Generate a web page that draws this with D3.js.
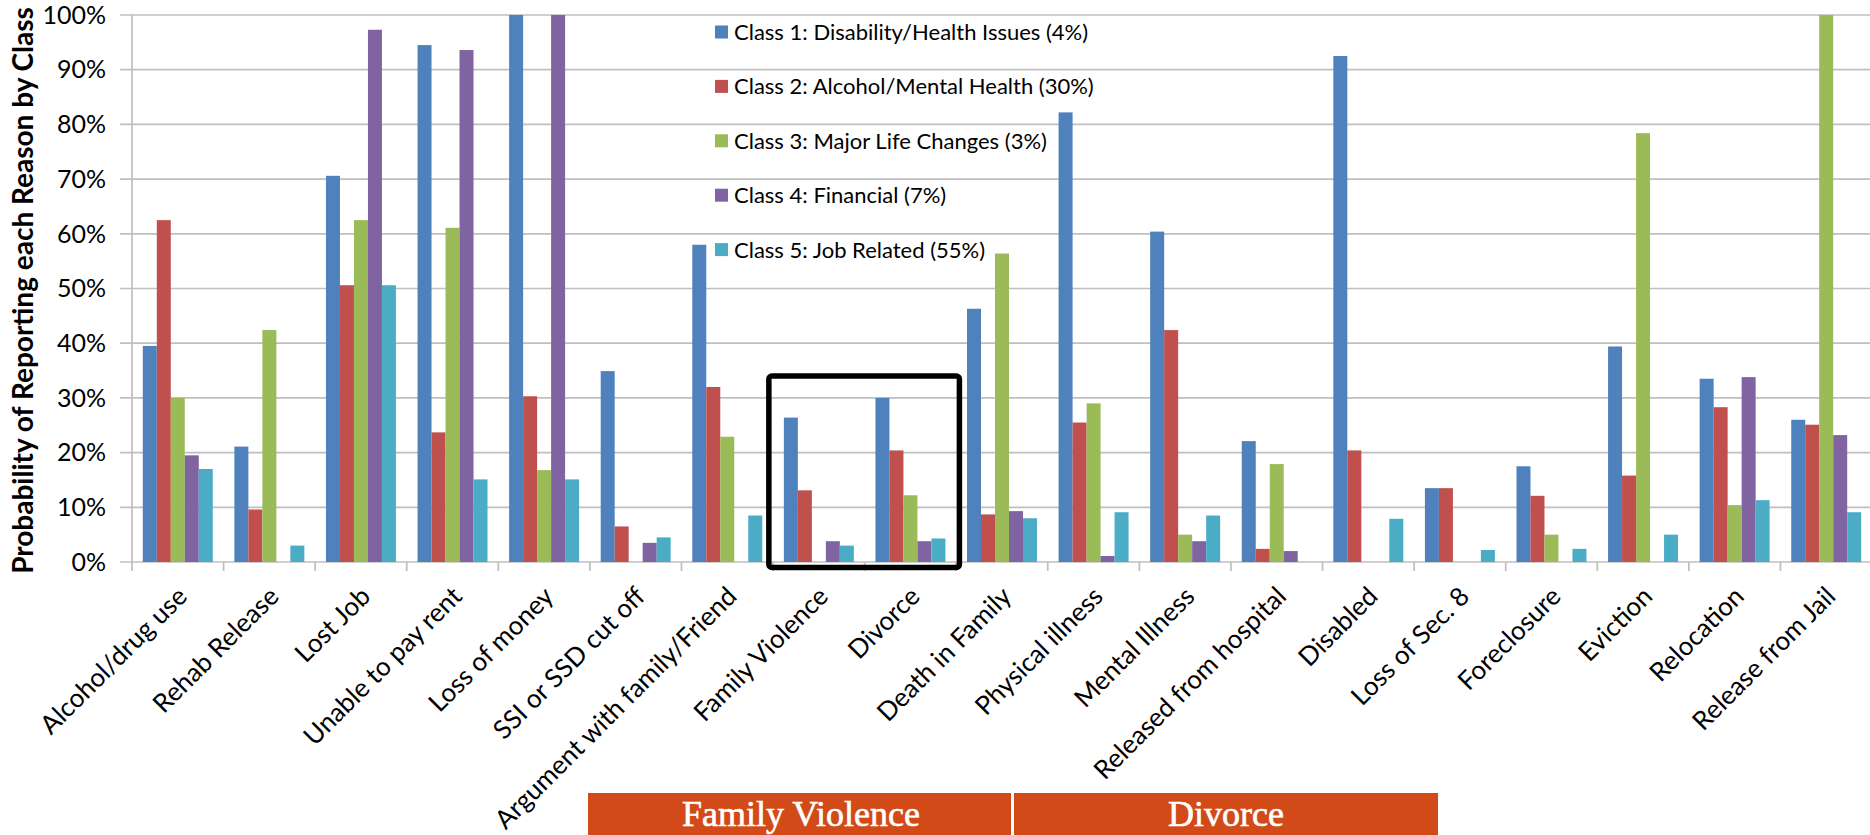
<!DOCTYPE html>
<html>
<head>
<meta charset="utf-8">
<script src="https://cdn.jsdelivr.net/npm/d3@7"></script>
<style>
  html, body { margin: 0; padding: 0; background: #fff; }
  svg { display: block; }
</style>
</head>
<body>
<div id="chart"></div>
<script>
// reasons reported (x categories)
const reasons = [
  "Alcohol/drug use", "Rehab Release", "Lost Job", "Unable to pay rent", "Loss of money",
  "SSI or SSD cut off", "Argument with family/Friend", "Family Violence", "Divorce",
  "Death in Family", "Physical illness", "Mental Illness", "Released from hospital",
  "Disabled", "Loss of Sec. 8", "Foreclosure", "Eviction", "Relocation", "Release from Jail"
];

const classNames = [
  "Class 1: Disability/Health Issues (4%)",
  "Class 2: Alcohol/Mental Health (30%)",
  "Class 3: Major Life Changes (3%)",
  "Class 4: Financial (7%)",
  "Class 5: Job Related (55%)"
];

// probability per reason, one array per class
const class1 = [0.395, 0.211, 0.706, 0.945, 1.00, 0.349, 0.580, 0.264, 0.300, 0.463, 0.822, 0.604, 0.221, 0.925, 0.135, 0.175, 0.394, 0.335, 0.260];
const class2 = [0.625, 0.096, 0.506, 0.237, 0.303, 0.065, 0.320, 0.131, 0.204, 0.087, 0.255, 0.424, 0.024, 0.204, 0.135, 0.121, 0.158, 0.283, 0.251];
const class3 = [0.300, 0.424, 0.625, 0.611, 0.168, 0.000, 0.229, 0.000, 0.122, 0.564, 0.290, 0.050, 0.179, 0.000, 0.000, 0.050, 0.784, 0.104, 1.00];
const class4 = [0.195, 0.000, 0.973, 0.936, 1.00, 0.035, 0.000, 0.038, 0.038, 0.093, 0.011, 0.038, 0.020, 0.000, 0.000, 0.000, 0.000, 0.338, 0.232];
const class5 = [0.170, 0.030, 0.506, 0.151, 0.151, 0.045, 0.085, 0.030, 0.043, 0.080, 0.091, 0.085, 0.000, 0.079, 0.022, 0.024, 0.050, 0.113, 0.091];

const yTicks = [0, 0.1, 0.2, 0.3, 0.4, 0.5, 0.6, 0.7, 0.8, 0.9, 1.0];
const colors = ["#4F81BD", "#C0504D", "#9BBB59", "#8064A2", "#4BACC6"];

const highlighted = ["Family Violence", "Divorce"];   // boxed categories
const bannerLabels = ["Family Violence", "Divorce"];

const W = 1870, H = 835;
const margin = {top: 15, right: -2, bottom: 273, left: 132};
const font = "Lato, 'Open Sans', sans-serif";

const series = [class1, class2, class3, class4, class5];

const svg = d3.select("#chart").append("svg")
  .attr("width", W).attr("height", H);

const x0 = d3.scaleBand()
  .domain(reasons)
  .range([margin.left, W - margin.right])
  .paddingInner(0.236)
  .paddingOuter(0.118);

const x1 = d3.scaleBand()
  .domain(d3.range(classNames.length))
  .range([0, x0.bandwidth()]);

const y = d3.scaleLinear()
  .domain([0, 1])
  .range([H - margin.bottom, margin.top]);

const gridColor = "#BFBFBF";

// grid lines + y ticks
svg.append("g")
  .selectAll("line")
  .data(yTicks)
  .join("line")
  .attr("x1", margin.left - 12)
  .attr("x2", W)
  .attr("y1", d => y(d))
  .attr("y2", d => y(d))
  .attr("stroke", gridColor)
  .attr("stroke-width", 1.7);

svg.append("line")
  .attr("x1", margin.left).attr("x2", margin.left)
  .attr("y1", y(1)).attr("y2", y(0))
  .attr("stroke", gridColor).attr("stroke-width", 1.7);

svg.append("g")
  .selectAll("text")
  .data(yTicks)
  .join("text")
  .attr("x", margin.left - 26)
  .attr("y", d => y(d))
  .attr("dy", "0.35em")
  .attr("text-anchor", "end")
  .style("font-family", font)
  .style("font-size", "25px")
  .attr("fill", "#000")
  .text(d3.format(".0%"));

// x category ticks at band boundaries
const step = x0.step();
svg.append("g")
  .selectAll("line")
  .data(d3.range(reasons.length + 1))
  .join("line")
  .attr("x1", i => margin.left + i * step)
  .attr("x2", i => margin.left + i * step)
  .attr("y1", y(0))
  .attr("y2", y(0) + 9)
  .attr("stroke", gridColor)
  .attr("stroke-width", 1.7);

// bars
const groups = svg.append("g")
  .selectAll("g")
  .data(reasons)
  .join("g")
  .attr("transform", d => `translate(${x0(d)},0)`);

groups.selectAll("rect")
  .data((d, i) => series.map((s, k) => ({k, v: s[i]})))
  .join("rect")
  .filter(d => d.v > 0)
  .attr("x", d => x1(d.k))
  .attr("width", x1.bandwidth())
  .attr("y", d => y(d.v))
  .attr("height", d => y(0) - y(d.v))
  .attr("fill", d => colors[d.k]);

// rotated category labels
svg.append("g")
  .selectAll("text")
  .data(reasons)
  .join("text")
  .attr("transform", d => `translate(${x0(d) + x0.bandwidth() / 2 + 11},${y(0) + 36}) rotate(-45)`)
  .attr("text-anchor", "end")
  .style("font-family", font)
  .style("font-size", "26px")
  .attr("fill", "#000")
  .text(d => d);

// y axis title
svg.append("text")
  .attr("transform", `translate(33,${(y(0) + y(1)) / 2 + 2}) rotate(-90)`)
  .attr("text-anchor", "middle")
  .style("font-family", font)
  .style("font-size", "28px")
  .style("font-weight", "bold")
  .attr("fill", "#000")
  .text("Probability of Reporting each Reason by Class");

// legend
const legend = svg.append("g").attr("transform", "translate(715,0)");
const legendRow = legend.selectAll("g")
  .data(classNames)
  .join("g")
  .attr("transform", (d, i) => `translate(0,${32 + i * 54.4})`);
legendRow.append("rect")
  .attr("x", 0).attr("y", -6.5)
  .attr("width", 13).attr("height", 13)
  .attr("fill", (d, i) => colors[i]);
legendRow.append("text")
  .attr("x", 19)
  .attr("dy", "0.36em")
  .style("font-family", font)
  .style("font-size", "22px")
  .attr("fill", "#000")
  .text(d => d);

// black highlight box around the two boxed reasons
const bx0 = x0(highlighted[0]) - 15;
const bx1 = x0(highlighted[1]) + x0.bandwidth() + 14;
svg.append("rect")
  .attr("x", bx0)
  .attr("y", y(0.34))
  .attr("width", bx1 - bx0)
  .attr("height", y(0) + 5.5 - y(0.34))
  .attr("rx", 3)
  .attr("fill", "none")
  .attr("stroke", "#000")
  .attr("stroke-width", 5.5);

// orange banner below the chart
const bannerX = [588, 1014, 1438];
const banner = svg.append("g");
banner.selectAll("rect")
  .data(bannerLabels)
  .join("rect")
  .attr("x", (d, i) => bannerX[i])
  .attr("y", 793)
  .attr("width", (d, i) => bannerX[i + 1] - bannerX[i] - (i === 0 ? 3 : 0))
  .attr("height", 50)
  .attr("fill", "#D24A18");
banner.selectAll("text")
  .data(bannerLabels)
  .join("text")
  .attr("x", (d, i) => (bannerX[i] + bannerX[i + 1]) / 2)
  .attr("y", 826)
  .attr("text-anchor", "middle")
  .style("font-family", "'Liberation Serif', 'DejaVu Serif', serif")
  .style("font-size", "36px")
  .attr("fill", "#fff")
  .attr("stroke", "#fff")
  .attr("stroke-width", 0.6)
  .text(d => d);
</script>
</body>
</html>
